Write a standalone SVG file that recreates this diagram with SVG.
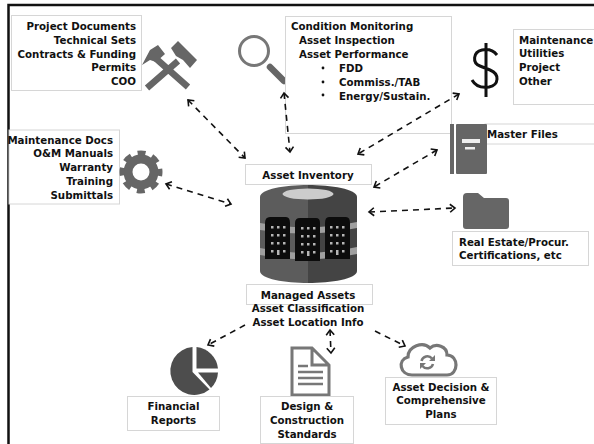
<svg xmlns="http://www.w3.org/2000/svg" width="594" height="444" viewBox="0 0 594 444">
<style>
.box{fill:#fff;stroke:#d6d6d6;stroke-width:1}
.t{font-family:"DejaVu Sans",Verdana,sans-serif;font-weight:700;font-size:10.25px;fill:#111}
.r{text-anchor:end}.c{text-anchor:middle}
.ic{fill:#666}
.dark{fill:#4d4d4d}
.a{fill:none;stroke:#111;stroke-width:1.6;stroke-dasharray:6 5;marker-end:url(#h)}
.b{marker-start:url(#hs)}
</style>
<defs>
<marker id="h" markerUnits="userSpaceOnUse" markerWidth="10" markerHeight="10" refX="7" refY="5" orient="auto"><path d="M2 1L7 5L2 9" fill="none" stroke="#111" stroke-width="1.6"/></marker>
<marker id="hs" markerUnits="userSpaceOnUse" markerWidth="10" markerHeight="10" refX="3" refY="5" orient="auto"><path d="M8 1L3 5L8 9" fill="none" stroke="#111" stroke-width="1.6"/></marker>
<path id="w" d="M271 226h2.500v2.500h-2.500zM277 226h2.500v2.500h-2.500zM283 226h2.500v2.500h-2.500zM271 234h2.500v2.500h-2.500zM277 234h2.500v2.500h-2.500zM283 234h2.500v2.500h-2.500zM271 242h2.500v2.500h-2.500zM277 242h2.500v2.500h-2.500zM283 242h2.500v2.500h-2.500zM271 250h2.500v2.500h-2.500zM277 250h2.500v5h-2.500zM283 250h2.500v2.500h-2.500z"/>
</defs>
<rect width="594" height="444" fill="#fff"/>
<path d="M8.500 444V5H594" fill="none" stroke="#111" stroke-width="2.500"/>
<g id="project-documents">
<rect class="box" x="11.500" y="15.500" width="130" height="75"/>
<g class="t r"><text x="136" y="30">Project Documents</text><text x="136" y="44">Technical Sets</text><text x="136" y="58">Contracts &amp; Funding</text><text x="136" y="71">Permits</text><text x="136" y="85">COO</text></g>
<path d="M152 55L188 87M147 88L178 61" fill="none" stroke="#666" stroke-width="6.500"/>
<path class="ic" d="M142 65L150 50L158 45L165 54L156 62L150 60ZM171 48L178 41L197 60L190 68L183 60L176 56Z"/>
</g>
<g id="condition-monitoring">
<circle cx="254" cy="51" r="14.500" fill="none" stroke="#777" stroke-width="3"/>
<path d="M270 67L284 81" fill="none" stroke="#666" stroke-width="6.500" stroke-linecap="round"/>
<rect class="box" x="285.500" y="16.500" width="166" height="117"/>
<g class="t"><text x="291" y="30">Condition Monitoring</text><text x="299" y="44">Asset Inspection</text><text x="299" y="58">Asset Performance</text><text x="339" y="72">FDD</text><text x="339" y="86">Commiss./TAB</text><text x="339" y="100">Energy/Sustain.</text></g>
<g fill="#111"><circle cx="323" cy="68" r="1.400"/><circle cx="323" cy="82" r="1.400"/><circle cx="323" cy="95" r="1.400"/></g>
</g>
<g id="costs">
<rect class="box" x="513.500" y="29.500" width="90" height="75"/>
<g class="t"><text x="519" y="44">Maintenance</text><text x="519" y="57">Utilities</text><text x="519" y="71">Project</text><text x="519" y="85">Other</text></g>
<path d="M497 55C493 50 487 49 482 50C473 52 472 63 480 66L490 70C500 74 499 85 489 87C483 88 476 87 472 80M486 43V97" fill="none" stroke="#111" stroke-width="3"/>
</g>
<g id="maintenance-docs">
<rect class="box" x="9" y="130" width="110.500" height="74"/>
<g class="t r"><text x="113" y="144">Maintenance Docs</text><text x="113" y="157">O&amp;M Manuals</text><text x="113" y="171">Warranty</text><text x="113" y="185">Training</text><text x="113" y="199">Submittals</text></g>
<circle cx="141" cy="172" r="13" fill="none" stroke="#666" stroke-width="9"/>
<circle cx="141" cy="172" r="19" fill="none" stroke="#666" stroke-width="5" stroke-dasharray="8 6.920" stroke-dashoffset="4"/>
</g>
<g id="master-files">
<rect class="box" x="485" y="124" width="120" height="20"/>
<text class="t" x="487" y="138">Master Files</text>
<rect class="ic" x="450" y="124" width="4" height="50"/>
<rect class="ic" x="456" y="124" width="31" height="50" rx="1"/>
<rect x="462" y="139" width="18" height="4" fill="#eee"/><rect x="465" y="147" width="10" height="2.500" fill="#eee"/>
</g>
<g id="real-estate">
<rect class="box" x="452.500" y="231.500" width="136" height="34"/>
<g class="t"><text x="459" y="246">Real Estate/Procur.</text><text x="459" y="259">Certifications, etc</text></g>
<path class="ic" d="M463 197Q463 193 467 193H478L484 198H506Q509 198 509 201V226Q509 229 506 229H466Q463 229 463 226Z"/>
</g>
<g id="asset-inventory">
<rect class="box" x="245.500" y="164.500" width="126" height="20"/>
<text class="t c" x="308" y="179">Asset Inventory</text>
</g>
<g id="database">
<path d="M260 197C260 189 285 185 308 185V283C285 283 260 279 260 271Z" fill="#5c5c5c"/>
<path d="M357 197C357 189 331 185 308 185V283C331 283 357 279 357 271Z" fill="#444"/>
<path d="M260 223Q308 232 357 222V228Q308 238 260 230ZM260 248Q308 258 357 247V254Q308 264 260 255Z" fill="#a0a0a0"/>
<ellipse cx="308" cy="194" rx="25.500" ry="5.500" fill="#ccc"/>
<g fill="#0c0c0c"><path d="M265 259V223Q265 217 270 217H286Q290 217 290 223V259Z"/><path d="M295 261V223Q295 218 300 218H316Q320 218 320 223V261Z"/><path d="M325 259V223Q325 217 329 217H346Q350 217 350 223V259Z"/></g>
<g fill="#b5b5b5"><use href="#w"/><use href="#w" x="30" y="1"/><use href="#w" x="59"/></g>
</g>
<g id="managed-assets">
<rect class="box" x="246.500" y="284.500" width="126" height="20"/>
<g class="t c"><text x="308" y="299">Managed Assets</text><text x="308" y="312">Asset Classification</text><text x="308" y="326">Asset Location Info</text></g>
</g>
<g id="financial-reports">
<rect class="box" x="127.500" y="396.500" width="92" height="34"/>
<g class="t c"><text x="173.500" y="410">Financial</text><text x="173.500" y="424">Reports</text></g>
<path class="dark" d="M192.500 347A24 24 0 1 0 209.500 389.500L192.500 372Z"/><path class="dark" d="M196.500 347.100A24 24 0 0 1 218 368.500H196.500Z"/><path class="dark" d="M198 372.500H218A24 24 0 0 1 211 388Z"/>
</g>
<g id="design-standards">
<path d="M312 348H292V395H329V365ZM312 348V365H329" fill="#fff" stroke="#777" stroke-width="3"/>
<path d="M298 366H308M298 372H323M298 378H323M298 384H323" stroke="#777" stroke-width="2.500"/>
<rect class="box" x="260.500" y="396.500" width="93" height="47"/>
<g class="t c"><text x="307" y="410">Design &amp;</text><text x="307" y="424">Construction</text><text x="307" y="438">Standards</text></g>
</g>
<g id="asset-decision">
<path d="M412 375C400 375 397 360 408 357C408 346 423 341 430 348C436 343 447 346 447 355C459 355 459 375 447 375Z" fill="none" stroke="#777" stroke-width="3.200"/>
<path d="M421.500 361A6 6 0 0 1 432 358.500M433 364A6 6 0 0 1 422.500 366" fill="none" stroke="#777" stroke-width="2.500"/>
<path d="M435 355V361H429ZM420 369V363H426Z" fill="#777"/>
<rect class="box" x="385.500" y="377.500" width="111" height="47"/>
<g class="t c"><text x="441" y="391">Asset Decision &amp;</text><text x="441" y="404">Comprehensive</text><text x="441" y="418">Plans</text></g>
</g>
<g id="connectors">
<path class="a b" d="M188 100L245 158"/>
<path class="a b" d="M284 93L290 152"/>
<path class="a b" d="M459 94L358 154"/>
<path class="a b" d="M437 150L374 187"/>
<path class="a b" d="M369 212L455 208"/>
<path class="a b" d="M166 184L231 204"/>
<path class="a" d="M245 325L208 345"/>
<path class="a b" d="M330 330L331 353"/>
<path class="a" d="M375 331L405 346"/>
</g>
</svg>
